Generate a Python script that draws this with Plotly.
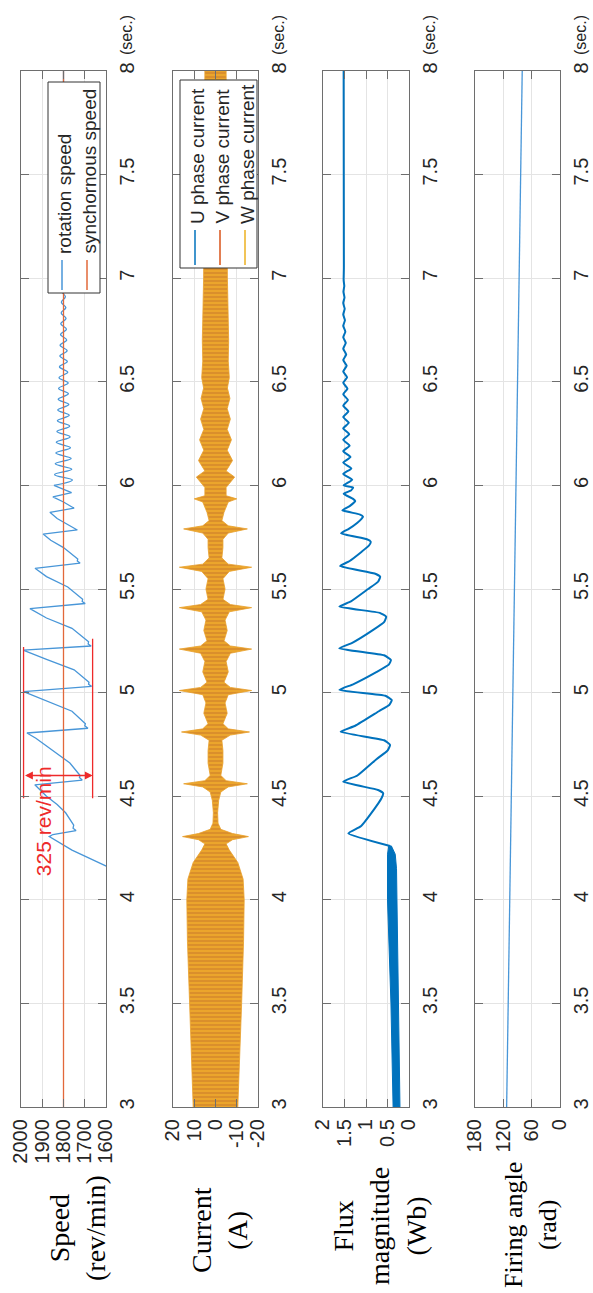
import plotly.graph_objects as go

W, H = 593, 1293

# ---------------- data ----------------
T_TICKS = [3, 3.5, 4, 4.5, 5, 5.5, 6, 6.5, 7, 7.5, 8]
T_LABELS = ["3", "3.5", "4", "4.5", "5", "5.5", "6", "6.5", "7", "7.5", "8"]

SPEED_TICKS = [1600, 1700, 1800, 1900, 2000]
CURR_TICKS = [-20, -10, 0, 10, 20]
CURR_LABELS = ["-20", "-10", "0", "10", "20"]
FLUX_TICKS = [0, 0.5, 1, 1.5, 2]
FLUX_LABELS = ["0", "0.5", "1", "1.5", "2"]
FIRE_TICKS = [0, 60, 120, 180]

SYNC_T = [3, 8]
SYNC_V = [1800, 1800]

# rotation speed: sawtooth part
SPEED_T = [4.10, 4.24, 4.305, 4.315, 4.334, 4.345, 4.36, 4.42, 4.46, 4.50, 4.555,
           4.578, 4.59, 4.60, 4.66, 4.72, 4.78, 4.805,
           4.828, 4.84, 4.85, 4.91, 4.96, 5.005,
           5.03, 5.04, 5.05, 5.11, 5.16, 5.205,
           5.225, 5.235, 5.245, 5.31, 5.36, 5.405,
           5.43, 5.44, 5.45, 5.51, 5.56, 5.60,
           5.625, 5.635, 5.645, 5.70, 5.735, 5.765,
           5.785, 5.80, 5.84, 5.87, 5.89, 5.92, 5.945, 5.965, 5.985, 6.0]
SPEED_V = [1470, 1760, 1867, 1850, 1741, 1755, 1752, 1790, 1830, 1880, 1935,
           1712, 1725, 1722, 1770, 1850, 1930, 1972,
           1685, 1700, 1697, 1760, 1880, 1988,
           1668, 1682, 1680, 1750, 1880, 1990,
           1670, 1684, 1682, 1760, 1880, 1958,
           1698, 1712, 1710, 1780, 1880, 1934,
           1722, 1735, 1733, 1800, 1860, 1896,
           1735, 1760, 1830, 1864, 1750, 1800, 1850, 1762, 1810, 1845]
# rotation speed: decaying ripple part
RIPPLE_T = [6.000, 6.026, 6.052, 6.078, 6.104, 6.130, 6.156, 6.182, 6.208, 6.234,
            6.260, 6.286, 6.312, 6.338, 6.364, 6.390, 6.416, 6.442, 6.468, 6.494,
            6.520, 6.546, 6.572, 6.598, 6.624, 6.650, 6.676, 6.702, 6.728, 6.754,
            6.780, 6.806, 6.832, 6.858, 6.884, 6.910, 6.936, 6.962, 6.988, 7.02,
            7.05, 7.08, 7.11, 7.20, 8.00]
RIPPLE_V = [1845, 1758, 1842, 1761, 1839, 1764, 1836, 1767, 1834, 1769,
            1831, 1771, 1829, 1773, 1827, 1775, 1825, 1777, 1823, 1778,
            1821, 1780, 1819, 1782, 1817, 1783, 1816, 1785, 1814, 1786,
            1813, 1788, 1811, 1789, 1810, 1791, 1808, 1792, 1807, 1795,
            1804, 1797, 1802, 1800, 1800]

# phase current envelope (amplitude, A)
CURR_T = [3.0, 3.5, 3.8, 4.0, 4.1, 4.18, 4.24, 4.27, 4.29, 4.305, 4.32, 4.34, 4.37, 4.42,
          4.48, 4.52, 4.545, 4.56, 4.575, 4.60, 4.66, 4.72, 4.77, 4.795, 4.81, 4.825,
          4.85, 4.90, 4.95, 4.99, 5.01, 5.025, 5.05, 5.10, 5.15, 5.19, 5.21, 5.225,
          5.25, 5.30, 5.35, 5.39, 5.41, 5.425, 5.45, 5.50, 5.55, 5.585, 5.605, 5.62,
          5.65, 5.70, 5.74, 5.77, 5.79, 5.805, 5.83, 5.87, 5.92, 5.935, 5.95, 5.99,
          6.04, 6.07, 6.12, 6.17, 6.22, 6.27, 6.32, 6.37, 6.42, 6.47, 6.52, 6.6,
          6.7, 6.8, 6.9, 7.0, 7.5, 8.0]
CURR_A = [10.5, 12.3, 13.2, 13.5, 13.0, 10.5, 6.5, 5.0, 8.0, 15.5, 8.0, 2.5, 1.2, 1.0,
          1.5, 2.5, 6.0, 15.0, 5.0, 2.5, 3.5, 3.5, 3.0, 7.0, 16.0, 6.0,
          3.5, 5.5, 4.5, 6.0, 17.0, 7.0, 4.0, 6.0, 5.0, 7.0, 17.0, 7.0,
          4.0, 5.5, 4.5, 6.5, 17.0, 7.0, 3.5, 4.5, 3.5, 6.5, 17.0, 6.0,
          3.0, 3.5, 3.5, 6.0, 15.0, 6.0, 3.0, 4.0, 6.0, 10.0, 5.0, 5.0,
          9.0, 5.0, 8.0, 5.5, 7.5, 5.5, 7.0, 5.5, 6.8, 5.6, 6.5, 6.0,
          6.2, 6.0, 5.8, 5.6, 5.2, 5.0]

# flux: rippling band (t < 4.26)
FLUXBAND_T = [3.0, 3.5, 4.0, 4.15, 4.22, 4.26]
FLUXBAND_C = [0.29, 0.33, 0.39, 0.40, 0.41, 0.44]
FLUXBAND_HW = [0.08, 0.09, 0.11, 0.11, 0.09, 0.03]
# flux line
FLUX_T = [4.26, 4.321, 4.355, 4.44, 4.49, 4.514, 4.53,
          4.570, 4.60, 4.68, 4.72, 4.747, 4.77,
          4.811, 4.84, 4.91, 4.94, 4.964, 4.985,
          5.013, 5.04, 5.10, 5.135, 5.157, 5.18,
          5.214, 5.24, 5.30, 5.34, 5.366, 5.385,
          5.415, 5.44, 5.50, 5.535, 5.559, 5.575,
          5.611, 5.635, 5.68, 5.71, 5.728, 5.74,
          5.769, 5.79, 5.82, 5.84, 5.849, 5.86,
          5.88, 5.90, 5.925, 5.935, 5.96, 5.975, 5.99,
          6.000, 6.027, 6.055, 6.082, 6.110, 6.137, 6.165, 6.192, 6.220, 6.247,
          6.275, 6.302, 6.330, 6.357, 6.385, 6.412, 6.440, 6.467, 6.495, 6.522,
          6.550, 6.577, 6.605, 6.632, 6.660, 6.687, 6.715, 6.742, 6.770, 6.797,
          6.825, 6.852, 6.880, 6.907, 6.935, 6.962, 6.990, 7.05, 8.0]
FLUX_V = [0.44, 1.41, 1.12, 0.80, 0.64, 0.60, 0.72,
          1.53, 1.20, 0.75, 0.50, 0.44, 0.58,
          1.59, 1.25, 0.70, 0.46, 0.40, 0.55,
          1.62, 1.30, 0.75, 0.47, 0.42, 0.58,
          1.62, 1.32, 0.85, 0.58, 0.53, 0.68,
          1.62, 1.35, 0.95, 0.72, 0.67, 0.80,
          1.60, 1.38, 1.10, 0.93, 0.89, 0.98,
          1.58, 1.40, 1.20, 1.10, 1.07, 1.15,
          1.55, 1.38, 1.25, 1.30, 1.52, 1.35, 1.30,
          1.52, 1.32, 1.53, 1.34, 1.53, 1.36, 1.53, 1.38, 1.53, 1.39,
          1.53, 1.40, 1.53, 1.41, 1.53, 1.42, 1.53, 1.43, 1.53, 1.44,
          1.53, 1.45, 1.53, 1.46, 1.53, 1.47, 1.53, 1.48, 1.53, 1.49,
          1.53, 1.495, 1.53, 1.50, 1.525, 1.505, 1.52, 1.515, 1.52]

FIRE_T = [3, 8]
FIRE_V = [113, 80]

# red annotation (325 rev/min)
BRACKET_V = [1988, 1663]
BRACKET_T0 = [4.49, 4.49]
BRACKET_T1 = [5.22, 5.26]
ARROW_T = 4.60

# ---------------- styling ----------------
AX = "#6e6e6e"
GRID = "#e4e4e4"
TXT = "#262626"
SANS = "Liberation Sans"
SERIF = "Liberation Serif"
BLUE = "#0072BD"
LBLUE = "#4896d8"
RED = "#D95319"
YEL = "#EDB120"


def px(x):
    return x / W


def py(y):
    return 1 - y / H


XDOM = [(21, 106), (173, 258), (323, 409), (475, 560)]
YDOM = [py(1107), py(71)]

fig = go.Figure()

# speed
fig.add_trace(go.Scatter(x=SPEED_V, y=SPEED_T, mode="lines", line=dict(color=LBLUE, width=1.3),
                         xaxis="x", yaxis="y"))
fig.add_trace(go.Scatter(x=RIPPLE_V, y=RIPPLE_T, mode="lines", line=dict(color=LBLUE, width=1.3, shape="spline"),
                         xaxis="x", yaxis="y"))
fig.add_trace(go.Scatter(x=SYNC_V, y=SYNC_T, mode="lines", line=dict(color="#e2683a", width=1.3),
                         xaxis="x", yaxis="y"))

# current envelope polygon
cx = list(CURR_A) + [-a for a in CURR_A[::-1]]
cy = list(CURR_T) + list(CURR_T[::-1])
fig.add_trace(go.Scatter(x=cx, y=cy, mode="lines", line=dict(color="#E8A02A", width=0.8),
                         fill="toself", fillcolor="#EBA52C",
                         fillpattern=dict(shape="-", fgcolor="#B9652A", size=4, solidity=0.35,
                                          fillmode="overlay"),
                         xaxis="x2", yaxis="y2"))

# flux
bx = [c + h for c, h in zip(FLUXBAND_C, FLUXBAND_HW)] + \
     [c - h for c, h in zip(FLUXBAND_C[::-1], FLUXBAND_HW[::-1])]
by = list(FLUXBAND_T) + list(FLUXBAND_T[::-1])
fig.add_trace(go.Scatter(x=bx, y=by, mode="lines", line=dict(color=BLUE, width=1),
                         fill="toself", fillcolor=BLUE, xaxis="x3", yaxis="y3"))
fig.add_trace(go.Scatter(x=FLUX_V, y=FLUX_T, mode="lines", line=dict(color=BLUE, width=2, shape="spline", smoothing=0.4),
                         xaxis="x3", yaxis="y3"))

# firing angle
fig.add_trace(go.Scatter(x=FIRE_V, y=FIRE_T, mode="lines", line=dict(color=LBLUE, width=1.3),
                         xaxis="x4", yaxis="y4"))

# red bracket lines
for v, t0, t1 in zip(BRACKET_V, BRACKET_T0, BRACKET_T1):
    fig.add_trace(go.Scatter(x=[v, v], y=[t0, t1], mode="lines", line=dict(color="#ee2a2a", width=1.3),
                             xaxis="x", yaxis="y"))

tickfont = dict(family=SANS, size=20, color=TXT)

layout = dict(width=W, height=H, margin=dict(l=0, r=0, t=0, b=0),
              paper_bgcolor="white", plot_bgcolor="white", showlegend=False)

xranges = [[2000, 1600], [20, -20], [2, 0], [180, 0]]
xticks = [(SPEED_TICKS, [str(v) for v in SPEED_TICKS]), (CURR_TICKS, CURR_LABELS),
          (FLUX_TICKS, FLUX_LABELS), (FIRE_TICKS, [str(v) for v in FIRE_TICKS])]

for i in range(4):
    sfx = "" if i == 0 else str(i + 1)
    layout["xaxis" + sfx] = dict(domain=[px(XDOM[i][0]), px(XDOM[i][1])], range=xranges[i],
                                 tickvals=xticks[i][0], ticktext=xticks[i][1],
                                 anchor="y" + sfx, side="bottom", tickangle=-90,
                                 ticks="inside", ticklen=8, tickcolor=AX, tickwidth=1.2,
                                 mirror="allticks", showline=True, linecolor=AX, linewidth=1.3,
                                 showgrid=True, gridcolor=GRID, gridwidth=1, zeroline=False,
                                 tickfont=tickfont, automargin=False, ticklabelstandoff=3)
    layout["yaxis" + sfx] = dict(domain=YDOM, range=[3, 8], tickvals=T_TICKS, ticktext=T_LABELS,
                                 anchor="x" + sfx, side="right", tickangle=-90,
                                 ticks="inside", ticklen=8, tickcolor=AX, tickwidth=1.2,
                                 mirror="allticks", showline=True, linecolor=AX, linewidth=1.3,
                                 showgrid=True, gridcolor=GRID, gridwidth=1, zeroline=False,
                                 tickfont=tickfont, automargin=False, ticklabelstandoff=3)
fig.update_layout(**layout)

ann = []
# axis titles
titles = [("Speed<br>(rev/min)", 77, 1228, 28), ("Current<br>(A)", 219, 1230, 28),
          ("Flux<br>magnitude<br>(Wb)", 380, 1226, 28), ("Firing angle<br>(rad)", 530, 1225, 26)]
for txt, x, y, fs in titles:
    ann.append(dict(text=txt, x=px(x), y=py(y), xref="paper", yref="paper", showarrow=False,
                    textangle=-90, xanchor="center", yanchor="middle",
                    font=dict(family=SERIF, size=fs, color="black")))
# (sec.) labels
for xr in XDOM:
    ann.append(dict(text="(sec.)", x=px(xr[1] + 21), y=py(57), xref="paper", yref="paper",
                    showarrow=False, textangle=-90, xanchor="center", yanchor="bottom",
                    font=dict(family=SANS, size=16, color=TXT)))

shapes = []
# speed legend
shapes.append(dict(type="rect", xref="paper", yref="paper", x0=px(48), x1=px(100), y0=py(293), y1=py(82),
                   line=dict(color="#333333", width=1), fillcolor="white", layer="above"))
for xx, col, lab in [(62, LBLUE, "rotation speed"), (87, "#e2683a", "synchornous speed")]:
    shapes.append(dict(type="line", xref="paper", yref="paper", x0=px(xx), x1=px(xx), y0=py(290), y1=py(260),
                       line=dict(color=col, width=1.5), layer="above"))
    ann.append(dict(text=lab, x=px(xx + 2), y=py(256), xref="paper", yref="paper", showarrow=False,
                    textangle=-90, xanchor="center", yanchor="bottom",
                    font=dict(family=SANS, size=19, color=TXT)))
# current legend
shapes.append(dict(type="rect", xref="paper", yref="paper", x0=px(180), x1=px(257), y0=py(268), y1=py(80),
                   line=dict(color="#333333", width=1), fillcolor="white", layer="above"))
for xx, col, lab in [(195, BLUE, "U phase current"), (220, RED, "V phase current"), (245, YEL, "W phase current")]:
    shapes.append(dict(type="line", xref="paper", yref="paper", x0=px(xx), x1=px(xx), y0=py(265), y1=py(230),
                       line=dict(color=col, width=1.5), layer="above"))
    ann.append(dict(text=lab, x=px(xx + 2), y=py(226), xref="paper", yref="paper", showarrow=False,
                    textangle=-90, xanchor="center", yanchor="bottom",
                    font=dict(family=SANS, size=19, color=TXT)))

# red double arrow + text
ann.append(dict(x=BRACKET_V[1], y=ARROW_T, ax=BRACKET_V[0], ay=ARROW_T, xref="x", yref="y",
                axref="x", ayref="y", text="", showarrow=True, arrowhead=2, arrowside="end+start",
                arrowsize=1.2, arrowwidth=1.3, arrowcolor="#ee2a2a"))
ann.append(dict(text="325 rev/min", x=1896, y=4.38, xref="x", yref="y", showarrow=False,
                textangle=-90, xanchor="center", yanchor="middle",
                font=dict(family=SANS, size=21, color="#ee2a2a")))

fig.update_layout(annotations=ann, shapes=shapes)
fig.write_html("out.html")
